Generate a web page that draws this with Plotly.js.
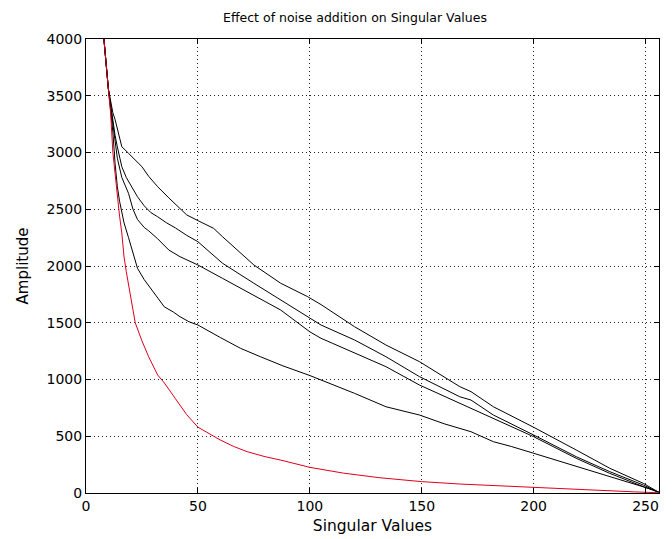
<!DOCTYPE html>
<html>
<head>
<meta charset="utf-8">
<script src="https://cdn.plot.ly/plotly-3.0.1.min.js"></script>
<style>html,body{margin:0;padding:0;background:#fff;}#chart{width:672px;height:539px;}</style>
</head>
<body>
<div id="chart"></div>
<script>
// Original (noise-free) singular values
const xOriginal = [6, 8, 10, 11, 12, 13, 14, 15, 16, 17, 18, 20, 22, 25, 28, 32, 35, 40, 45, 50, 55, 60, 66, 72, 80, 87, 100, 115, 131, 150, 167, 185, 200, 218, 234, 245, 256];
const yOriginal = [4600, 4000, 3560, 3350, 3000, 2790, 2580, 2440, 2290, 2080, 1950, 1740, 1500, 1340, 1200, 1040, 970, 830, 690, 580, 520, 467, 410, 364, 320, 290, 226, 175, 135, 100, 79, 62, 47, 32, 18, 10, 2];

// Noisy versions (4 noise levels, lowest to highest)
const xNoise1 = [6, 8, 10, 11, 12, 13, 14, 15, 17, 19, 21, 23, 26, 29, 32, 35, 39, 42, 46, 50, 60, 69, 78, 88, 100, 105, 120, 134, 149, 160, 172, 182, 190, 200, 210, 219, 234, 249, 253, 256];
const yNoise1 = [4600, 4000, 3560, 3380, 3180, 2900, 2700, 2570, 2380, 2250, 2120, 1980, 1880, 1800, 1720, 1640, 1595, 1553, 1509, 1480, 1370, 1275, 1200, 1120, 1035, 996, 878, 760, 687, 610, 540, 452, 410, 350, 290, 232, 144, 56, 30, 5];

const xNoise2 = [6, 8, 10, 11, 12, 13, 14, 16, 19, 21, 23, 26, 28, 32, 37, 42, 50, 61, 75, 87, 100, 105, 110, 120, 134, 149, 167, 172, 182, 200, 219, 234, 249, 256];
const yNoise2 = [4600, 4000, 3560, 3400, 3230, 3080, 2950, 2780, 2640, 2500, 2410, 2340, 2310, 2240, 2141, 2082, 2009, 1891, 1744, 1612, 1420, 1363, 1320, 1231, 1113, 951, 790, 746, 658, 496, 306, 173, 56, 5];

const xNoise3 = [6, 8, 10, 11, 12, 13, 14, 16, 18, 20, 23, 26, 29, 32, 36, 40, 45, 50, 61, 75, 87, 100, 105, 120, 134, 149, 167, 172, 182, 200, 219, 234, 249, 256];
const yNoise3 = [4600, 4000, 3560, 3420, 3280, 3150, 3050, 2875, 2780, 2710, 2610, 2530, 2470, 2434, 2380, 2335, 2270, 2214, 2024, 1848, 1700, 1540, 1480, 1348, 1201, 1025, 848, 819, 687, 511, 320, 188, 70, 5];

const xNoise4 = [6, 8, 10, 11, 12, 13, 14, 15, 16, 19, 22, 25, 28, 32, 37, 41, 45, 50, 57, 61, 75, 87, 99, 105, 120, 134, 149, 167, 172, 182, 200, 219, 234, 249, 256];
const yNoise4 = [4600, 4000, 3560, 3440, 3350, 3290, 3200, 3120, 3051, 2993, 2930, 2875, 2790, 2699, 2600, 2522, 2450, 2400, 2332, 2258, 2009, 1848, 1730, 1660, 1465, 1304, 1157, 937, 893, 760, 579, 379, 218, 85, 5];

const xTicks = [0, 50, 100, 150, 200, 250];
const yTicks = [0, 500, 1000, 1500, 2000, 2500, 3000, 3500, 4000];

const font = "DejaVu Sans, Arial, sans-serif";
const blackLine = {color: '#000000', width: 1};

const traces = [
  {x: xNoise4, y: yNoise4, mode: 'lines', line: blackLine},
  {x: xNoise3, y: yNoise3, mode: 'lines', line: blackLine},
  {x: xNoise2, y: yNoise2, mode: 'lines', line: blackLine},
  {x: xNoise1, y: yNoise1, mode: 'lines', line: blackLine},
  {x: xOriginal, y: yOriginal, mode: 'lines', line: {color: '#e0001b', width: 1}}
];

const axisCommon = {
  showline: true, linecolor: '#000', linewidth: 1, mirror: 'ticks',
  ticks: 'inside', ticklen: 5, tickcolor: '#000', tickwidth: 1,
  showgrid: true, gridcolor: '#222', gridwidth: 1, griddash: '1px,3px',
  zeroline: false, tickfont: {family: font, size: 14, color: '#000'}
};

const layout = {
  width: 672, height: 539,
  margin: {l: 86, r: 13, t: 39, b: 46},
  paper_bgcolor: '#fff', plot_bgcolor: '#fff',
  showlegend: false,
  title: {text: 'Effect of noise addition on Singular Values', font: {family: font, size: 12.5, color: '#000'},
    x: 355 / 672, xref: 'container', xanchor: 'center', y: 1 - 18 / 539, yref: 'container', yanchor: 'middle'},
  xaxis: Object.assign({}, axisCommon, {range: [0, 256], tickvals: xTicks, ticktext: xTicks.map(String),
    title: {text: 'Singular Values', font: {family: font, size: 15.5, color: '#000'}, standoff: 7}}),
  yaxis: Object.assign({}, axisCommon, {range: [0, 4000], tickvals: yTicks, ticktext: yTicks.map(String),
    title: {text: 'Amplitude', font: {family: font, size: 15, color: '#000'}, standoff: 14}})
};

Plotly.newPlot('chart', traces, layout, {displayModeBar: false, staticPlot: true});
</script>
</body>
</html>
